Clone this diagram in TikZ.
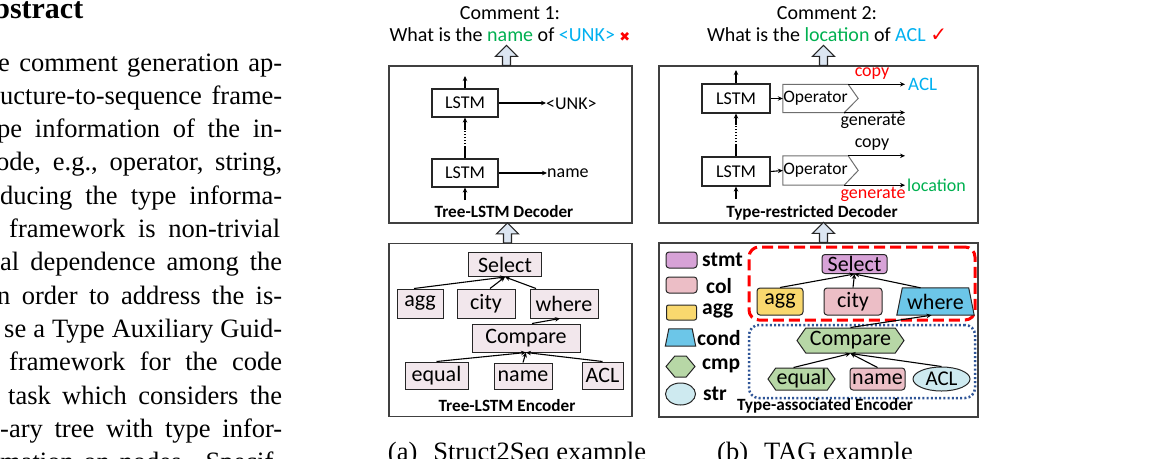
\documentclass[tikz,border=0pt]{standalone}
\usepackage{fontspec}
\setmainfont{Carlito}
\newfontfamily\serif{Liberation Serif}
\newfontfamily\dejavu{DejaVu Sans}
\usetikzlibrary{shapes.geometric,shapes.symbols,arrows.meta,calc}
\definecolor{framegray}{RGB}{64,64,64}
\definecolor{lpink}{RGB}{242,231,236}
\definecolor{cstmt}{RGB}{215,162,215}
\definecolor{ccol}{RGB}{236,190,198}
\definecolor{cagg}{RGB}{249,216,110}
\definecolor{ccond}{RGB}{108,198,232}
\definecolor{ccmp}{RGB}{183,215,166}
\definecolor{cstr}{RGB}{206,234,240}
\definecolor{tgreen}{RGB}{0,176,80}
\definecolor{tblue}{RGB}{0,176,240}
\definecolor{blkfill}{RGB}{220,230,242}
\definecolor{dotblue}{RGB}{47,85,151}
\definecolor{opgray}{RGB}{110,110,110}
\newcommand\bodyline[5]{\node[anchor=base west, inner sep=0, font=\serif\fontsize{26.5}{30}\selectfont] (#1) at (#2,#3) {\makebox[#4pt][s]{#5}};}
\newcommand\blockup[1]{\draw[blk] ($(#1)+(-4,0)$) -- ++(8,0) -- ++(0,-9) -- ++(7,0) -- ++(-11,-11) -- ++(-11,11) -- ++(7,0) -- cycle;}
\newcommand\trapdraw[2]{\draw[tnode, fill=ccond] (#1.south west) -- ($(#1.north west)+(#2,0)$) -- ($(#1.north east)+(-#2,0)$) -- (#1.south east) -- cycle;}
\begin{document}
\begin{tikzpicture}[x=1pt,y=-1pt,
  frame/.style={draw=framegray, line width=1.3pt, inner sep=0},
  lstm/.style={draw=black!85, line width=1.1pt, minimum width=66pt, minimum height=28pt, inner sep=0, font=\fontsize{18}{20}\selectfont},
  tnode/.style={draw=black!85, line width=1pt, inner sep=0, font=\fontsize{22}{24}\selectfont},
  lnode/.style={tnode, fill=lpink},
  arr/.style={-{Stealth[length=5pt,width=4.5pt]}, line width=1.1pt},
  ttl/.style={inner sep=0, font=\bfseries\fontsize{17.2}{19}\selectfont},
  lbl/.style={inner sep=0, font=\fontsize{18}{20}\selectfont},
  leg/.style={inner sep=0, anchor=west, font=\bfseries\fontsize{21.5}{22}\selectfont},
  blk/.style={draw=black!85, line width=1.1pt, fill=blkfill, line join=miter},
  opline/.style={draw=opgray, line width=1pt},
  hexa/.style={signal, signal to=west and east, signal pointer angle=110},
  cmt/.style={inner sep=0, font=\fontsize{20}{22}\selectfont},
  captext/.style={inner sep=0, anchor=base, font=\serif\fontsize{26.5}{30}\selectfont}
]
\useasboundingbox (0,0) rectangle (1174,458);

% ---- body text of the page
\node[anchor=base east, inner sep=0, font=\serif\bfseries\fontsize{30}{32}\selectfont] (head) at (83.5,18) {Abstract};
\bodyline{b1}{-2}{71}{284}{e comment generation ap-}
\bodyline{b2}{0}{104.3}{282}{ucture-to-sequence frame-}
\bodyline{b3}{-3}{137.6}{285}{pe information of the in-}
\bodyline{b4}{-4}{170.9}{286}{ode, e.g., operator, string,}
\bodyline{b5}{0}{204.2}{282}{ducing the type informa-}
\bodyline{b6}{9}{237.5}{271}{framework is non-trivial}
\bodyline{b7}{0}{270.8}{282}{al dependence among the}
\bodyline{b8}{-3}{304.1}{285}{n order to address the is-}
\bodyline{b9}{4}{337.4}{278}{se a Type Auxiliary Guid-}
\bodyline{b10}{9}{370.7}{273}{framework for the code}
\bodyline{b11}{8}{404}{274}{task which considers the}
\bodyline{b12}{0}{437.3}{282}{-ary tree with type infor-}
\bodyline{b13}{0}{470.6}{282}{mation on nodes. Specif-}

% ================= panel (a)
\node[cmt] (c1a) at (510,13) {Comment 1:};
\node[cmt] (c1b) at (510,35) {What is the \textcolor{tgreen}{name} of \textcolor{tblue}{<UNK>} \textcolor{red}{\dejavu\fontsize{13}{14}\selectfont ✖}};
\node[frame, minimum width=243pt, minimum height=157pt] (dec1) at (510.5,144.5) {};
\blockup{$(dec1.north)+(-4,0)$}
\node[lstm] (l1t) at (465,103) {LSTM};
\node[lstm] (l1b) at (465,173) {LSTM};
\coordinate (o1) at (465,76);
\coordinate (i1) at (465,200);
\draw[arr] (l1t) -- (o1);
\draw[arr] (i1) -- (l1b);
\draw[line width=1.1pt] (l1b.north) -- ++(0,-11) coordinate (d1a);
\draw[line width=1.1pt, dotted] (d1a) -- ($(l1t.south)+(0,11)$) coordinate (d1b);
\draw[arr] (d1b) -- (l1t.south);
\node[lbl, anchor=west] (unk) at (546,104) {<UNK>};
\node[lbl, anchor=west] (nm1) at (547,173) {name};
\draw[arr] (l1t.east) -- (l1t.east -| unk.west);
\draw[arr] (l1b.east) -- (l1b.east -| nm1.west);
\node[ttl] (t1) at (504,212) {Tree-LSTM Decoder};

\node[frame, minimum width=243pt, minimum height=173pt] (enc1) at (510.5,330) {};
\blockup{$(enc1.north)+(-3,0)$}
\node[lnode, minimum width=73pt, minimum height=24pt] (sel1) at (505,264.5) {Select};
\node[lnode, minimum width=46pt, minimum height=29pt] (agg1) at (420,303.5) {agg};
\node[lnode, minimum width=58pt, minimum height=29pt] (city1) at (486,303.5) {city};
\node[lnode, minimum width=68pt, minimum height=29pt] (where1) at (564,303.5) {where};
\node[lnode, minimum width=108pt, minimum height=28pt] (cmp1) at (526,338) {Compare};
\node[lnode, minimum width=63pt, minimum height=27pt] (eq1) at (436.5,375.5) {equal};
\node[lnode, minimum width=58pt, minimum height=26pt] (nm1e) at (523,376) {name};
\node[lnode, minimum width=41pt, minimum height=27pt] (acl1) at (602.5,375.5) {ACL};
\draw[arr] ($(agg1.north)+(-6,0)$) -- (sel1.south);
\draw[arr] ($(city1.north)+(4,0)$) -- (sel1.south);
\draw[arr] ($(where1.north)+(-28,0)$) -- (sel1.south);
\draw[arr] ($(cmp1.north)+(6,0)$) -- ($(where1.south)+(-4,0)$);
\draw[arr] (eq1.north) -- (cmp1.south);
\draw[arr] (nm1e.north) -- (cmp1.south);
\draw[arr] (acl1.north) -- (cmp1.south);
\node[ttl] (t2) at (507,405.5) {Tree-LSTM Encoder};
\node[captext] (capa) at (517,460.5) {(a)\hspace{16pt}Struct2Seq example};

% ================= panel (b)
\node[cmt] (c2a) at (827,13) {Comment 2:};
\node[cmt] (c2b) at (827,35) {What is the \textcolor{tgreen}{location} of \textcolor{tblue}{ACL} \textcolor{red}{\dejavu\fontsize{20}{20}\selectfont ✓}};
\node[frame, minimum width=319pt, minimum height=157pt] (dec2) at (818.5,144.5) {};
\blockup{$(dec2.north)+(5,0)$}
\node[lstm, minimum width=68pt, minimum height=29pt] (l2t) at (736,98.5) {LSTM};
\node[lstm, minimum width=68pt, minimum height=29pt] (l2b) at (736,171.5) {LSTM};
\coordinate (o2) at (736,70);
\coordinate (i2) at (736,199);
\draw[arr] (l2t) -- (o2);
\draw[arr] (i2) -- (l2b);
\draw[line width=1.1pt] (l2b.north) -- ++(0,-11) coordinate (d2a);
\draw[line width=1.1pt, dotted] (d2a) -- ($(l2t.south)+(0,11)$) coordinate (d2b);
\draw[arr] (d2b) -- (l2t.south);
% operators
\node[inner sep=0, minimum width=65pt, minimum height=28pt, font=\fontsize{17.5}{20}\selectfont] (op1) at (815.5,98.5) {Operator};
\node[inner sep=0, minimum width=65pt, minimum height=29pt, font=\fontsize{17.5}{20}\selectfont] (op2) at (815.5,170.5) {Operator};
\draw[opline] (op1.north east) -- (op1.north west) -- (op1.south west) -- ($(op1.south east)+(-4,0)$) -- ($(op1.east)+(10,0)$) -- cycle;
\draw[opline] (op2.north east) -- (op2.north west) -- (op2.south west) -- ($(op2.south east)+(-4,0)$) -- ($(op2.east)+(10,0)$) -- cycle;
\draw[arr] (l2t.east) -- (op1.west);
\draw[arr] (l2b.east) -- (op2.west);
\node[lbl, anchor=west, text=tblue, font=\fontsize{19}{20}\selectfont] (acl2) at (908,84) {ACL};
\node[lbl, anchor=west, text=tgreen] (loc2) at (907,185.5) {location};
\coordinate (g1) at (905,112.5);
\draw[arr] (op1.north east) -- ($(op1.north east -| acl2.west)+(-3,0)$);
\draw[arr] ($(op1.south east)+(-4,0)$) -- (g1);
\draw[arr] (op2.north east) -- (op2.north east -| g1);
\draw[arr] ($(op2.south east)+(-4,0)$) -- ($(op2.south east -| loc2.west)+(-2,0)$);
\node[lbl, text=red] (cp1) at (872,74) {copy};
\node[lbl] (gn1) at (873,121.5) {generate};
\node[lbl] (cp2) at (872,145) {copy};
\node[lbl, text=red] (gn2) at (873,194.5) {generate};
\node[ttl] (t3) at (812,213) {Type-restricted Decoder};

\node[frame, minimum width=319pt, minimum height=174pt] (enc2) at (818.5,330) {};
\blockup{$(enc2.north)+(5,0)$}
% legend
\node[tnode, fill=cstmt, rounded corners=3pt, minimum width=31pt, minimum height=16pt] (lg1) at (681.5,260) {};
\node[tnode, fill=ccol, rounded corners=3pt, minimum width=31pt, minimum height=16pt] (lg2) at (681.5,285) {};
\node[tnode, fill=cagg, rounded corners=2pt, minimum width=30pt, minimum height=15pt] (lg3) at (681.5,312.5) {};
\node[inner sep=0, minimum width=30pt, minimum height=17pt] (lg4) at (680.5,337.5) {};
\trapdraw{lg4}{3.5}
\node[tnode, fill=ccmp, hexa, signal pointer angle=100, minimum width=29pt, minimum height=21pt] (lg5) at (680.5,366.5) {};
\node[tnode, fill=cstr, ellipse, minimum width=30pt, minimum height=22pt] (lg6) at (680.5,394) {};
\node[leg] (lt1) at (702,260) {stmt};
\node[leg] (lt2) at (706,286) {col};
\node[leg] (lt3) at (702,311) {agg};
\node[leg] (lt4) at (697,338) {cond};
\node[leg] (lt5) at (702,366) {cmp};
\node[leg] (lt6) at (703,394) {str};
% group frames
\node[draw=red, line width=3pt, dash pattern=on 11pt off 5pt, rounded corners=10pt, minimum width=226pt, minimum height=73pt] (grp1) at (862,283.5) {};
\node[draw=dotblue, line width=2.5pt, dash pattern=on 2pt off 2.2pt, rounded corners=10pt, minimum width=226pt, minimum height=73pt] (grp2) at (862,361.5) {};
% tree
\node[tnode, fill=cstmt, rounded corners=3pt, minimum width=65pt, minimum height=19pt] (sel2) at (854.5,264) {Select};
\node[tnode, fill=cagg, rounded corners=3pt, minimum width=46pt, minimum height=27pt] (agg2) at (780,301.5) {agg};
\node[tnode, fill=ccol, rounded corners=3pt, minimum width=58pt, minimum height=27pt] (city2) at (853,301.5) {city};
\node[inner sep=0, minimum width=77pt, minimum height=27pt] (where2) at (935.5,301.5) {};
\trapdraw{where2}{5.5}
\node[tnode, draw=none] (where2t) at (where2) {where};
\node[tnode, fill=ccmp, hexa, minimum width=107pt, minimum height=25pt] (cmp2) at (850.5,340.5) {Compare};
\node[tnode, fill=ccmp, hexa, minimum width=67pt, minimum height=22pt] (eq2) at (801.5,379) {equal};
\node[tnode, fill=ccol, rounded corners=3pt, minimum width=55pt, minimum height=22pt] (nm2) at (877.5,379) {name};
\node[tnode, fill=cstr, ellipse, minimum width=57pt, minimum height=24pt, font=\fontsize{21}{22}\selectfont] (acl3) at (941.5,379) {ACL};
\draw[arr] (agg2.north) -- (sel2.south);
\draw[arr] (city2.north) -- (sel2.south);
\draw[arr] ($(where2.north)+(-15,0)$) -- (sel2.south);
\draw[arr] (cmp2.north) -- ($(where2.south)+(-4,0)$);
\draw[arr] ($(eq2.north)+(-8,0)$) -- (cmp2.south);
\draw[arr] (nm2.north) -- (cmp2.south);
\draw[arr] (acl3.north) -- (cmp2.south);
\node[ttl] (t4) at (825,405.5) {Type-associated Encoder};
\node[captext] (capb) at (815,460.5) {(b)\hspace{16pt}TAG example};
\end{tikzpicture}
\end{document}
